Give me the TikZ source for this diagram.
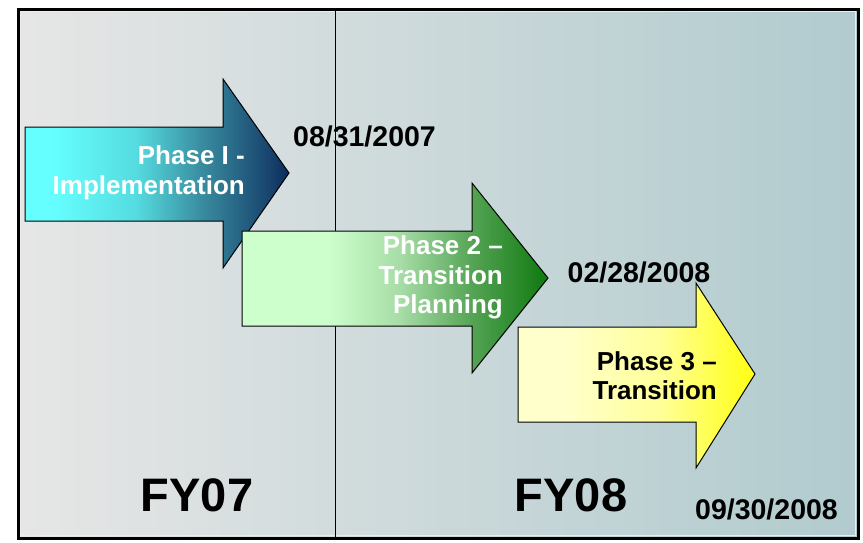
\documentclass[tikz,border=0pt]{standalone}
\usepackage{fontspec}
\setmainfont{Liberation Sans}
\usetikzlibrary{calc}

\definecolor{p1a}{HTML}{66FFFF}
\definecolor{p1b}{HTML}{55DCE0}
\definecolor{p1c}{HTML}{3A8FA2}
\definecolor{p1d}{HTML}{163F6A}
\definecolor{p1e}{HTML}{0A2A5A}
\definecolor{p2a}{HTML}{CCFFCC}
\definecolor{p2b}{HTML}{A6DCA6}
\definecolor{p2c}{HTML}{52A252}
\definecolor{p2d}{HTML}{0E790E}
\definecolor{p3a}{HTML}{FFFFCC}
\definecolor{p3b}{HTML}{FFFF99}
\definecolor{p3c}{HTML}{FFFF10}
\definecolor{bgleft}{HTML}{E6E6E6}
\definecolor{bgright}{HTML}{B1CBCE}

% horizontal shadings: the path's bounding box spans 25bp..75bp
\pgfdeclarehorizontalshading{phaseone}{100bp}{%
  color(0bp)=(p1a); color(25bp)=(p1a); color(30bp)=(p1a);
  color(46bp)=(p1b); color(58bp)=(p1c); color(72bp)=(p1d);
  color(75bp)=(p1e); color(100bp)=(p1e)}
\pgfdeclarehorizontalshading{phasetwo}{100bp}{%
  color(0bp)=(p2a); color(25bp)=(p2a); color(39bp)=(p2a);
  color(51bp)=(p2b); color(63bp)=(p2c); color(75bp)=(p2d);
  color(100bp)=(p2d)}
\pgfdeclarehorizontalshading{phasethree}{100bp}{%
  color(0bp)=(p3a); color(25bp)=(p3a); color(35bp)=(p3a);
  color(55bp)=(p3b); color(75bp)=(p3c); color(100bp)=(p3c)}

\tikzset{
  phasearrow/.style={draw=black, line width=1pt, line join=miter},
  phasetext/.style={font=\bfseries\fontsize{26}{29.5}\selectfont,
    align=right, anchor=east, inner sep=0pt},
  datetext/.style={font=\bfseries\fontsize{28.5}{32}\selectfont, inner sep=0pt,
    text=black, anchor=base},
  yeartext/.style={font=\bfseries\fontsize{47}{52}\selectfont, inner sep=0pt, text=black},
}

\begin{document}
\begin{tikzpicture}[x=1pt,y=-1pt]
  \useasboundingbox (0,0) rectangle (863,542);

  % background panel with the fiscal-year divider
  \shade[left color=bgleft, right color=bgright] (18,9) rectangle (858,538);
  \draw[white!85!gray, line width=1pt] (20.5,11.5) rectangle (855.5,535.5);
  \draw[black, line width=0.9pt] (335,10) -- (335,537);
  \draw[black, line width=3pt] (18,9) rectangle (858,538);

  % phase arrows
  \shade[shading=phaseone, phasearrow]
    (25,127) -- (223,127) -- (223,79) -- (289,173) -- (223,268)
    -- (223,221) -- (25,221) -- cycle;
  \shade[shading=phasetwo, phasearrow]
    (242,231) -- (472,231) -- (472,183) -- (548,278) -- (472,373)
    -- (472,326) -- (242,326) -- cycle;
  \shade[shading=phasethree, phasearrow]
    (518,327) -- (696,327) -- (696,283) -- (755,374) -- (696,468)
    -- (696,422) -- (518,422) -- cycle;

  % phase labels
  \node[phasetext, text=white] (ph1) at (245,173) {Phase I -\\Implementation};
  \node[phasetext, text=white] (ph2) at (503,277.5) {Phase 2 –\\Transition\\Planning};
  \node[phasetext, text=black] (ph3) at (717,375.5) {Phase 3 –\\Transition};

  % milestone dates
  \node[datetext] (d1) at (364.5,146) {08/31/2007};
  \node[datetext] (d2) at (639,282.5) {02/28/2008};
  \node[datetext] (d3) at (766.5,519) {09/30/2008};

  % fiscal years
  \node[yeartext] (fy7) at (197,495) {FY07};
  \node[yeartext] (fy8) at (571,495) {FY08};
\end{tikzpicture}
\end{document}
